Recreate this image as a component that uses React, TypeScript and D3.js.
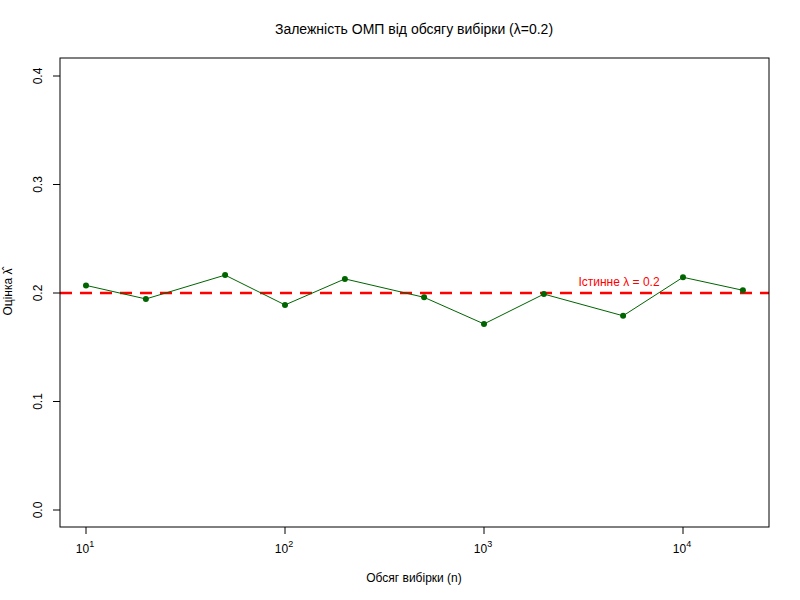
import React from "react";
import * as d3 from "d3";

const sizes = [10, 20, 50, 100, 200, 500, 1000, 2000, 5000, 10000, 20000];
const estimates = [0.207, 0.1945, 0.2165, 0.189, 0.213, 0.196, 0.1715, 0.199, 0.179, 0.2145, 0.2025];
const yTicks = [0, 0.1, 0.2, 0.3, 0.4];
const xTicks = [1, 2, 3, 4];
const trueLambda = 0.2;

export default function App() {
  const W = 800, H = 600;
  const L = 60, R = 769, T = 58, B = 527;
  const x = d3.scaleLog().domain([10, 10000]).range([86, 683]);
  const y = d3.scaleLinear().domain([0, 0.4]).range([510, 76]);
  const line = d3.line<number>().x((_, i) => x(sizes[i])).y(d => y(d));
  const font = "Liberation Sans, Arial, sans-serif";
  return (
    <svg width={W} height={H} style={{ position: "absolute", left: 0, top: 0 }} fontFamily={font}>
      <rect width={W} height={H} fill="#fff" />
      <text x={414} y={34} textAnchor="middle" fontSize={14}>Залежність ОМП від обсягу вибірки (λ=0.2)</text>
      <line x1={L} x2={R} y1={y(trueLambda)} y2={y(trueLambda)} stroke="#ff0000" strokeWidth={2.5} strokeDasharray="12,8" />
      <path d={line(estimates) ?? ""} fill="none" stroke="#006400" strokeWidth={1} />
      {estimates.map((v, i) => (
        <circle key={i} cx={x(sizes[i])} cy={y(v)} r={3} fill="#006400" />
      ))}
      <text x={619} y={286} textAnchor="middle" fontSize={12} fill="#ff0000">Істинне λ = 0.2</text>
      <rect x={L} y={T} width={R - L} height={B - T} fill="none" stroke="#000" />
      {yTicks.map(t => (
        <g key={t}>
          <line x1={L} x2={L - 7} y1={y(t)} y2={y(t)} stroke="#000" />
          <text transform={`translate(42,${y(t)}) rotate(-90)`} textAnchor="middle" fontSize={12}>{t.toFixed(1)}</text>
        </g>
      ))}
      {xTicks.map(p => (
        <g key={p}>
          <line x1={x(10 ** p)} x2={x(10 ** p)} y1={B} y2={B + 7} stroke="#000" />
          <text x={x(10 ** p) - 1} y={553} textAnchor="middle" fontSize={12}>
            10<tspan dy={-6} fontSize={9}>{p}</tspan>
          </text>
        </g>
      ))}
      <text x={414} y={582} textAnchor="middle" fontSize={12}>Обсяг вибірки (n)</text>
      <text transform={`translate(12,${292}) rotate(-90)`} textAnchor="middle" fontSize={12}>Оцінка λ̂</text>
    </svg>
  );
}
